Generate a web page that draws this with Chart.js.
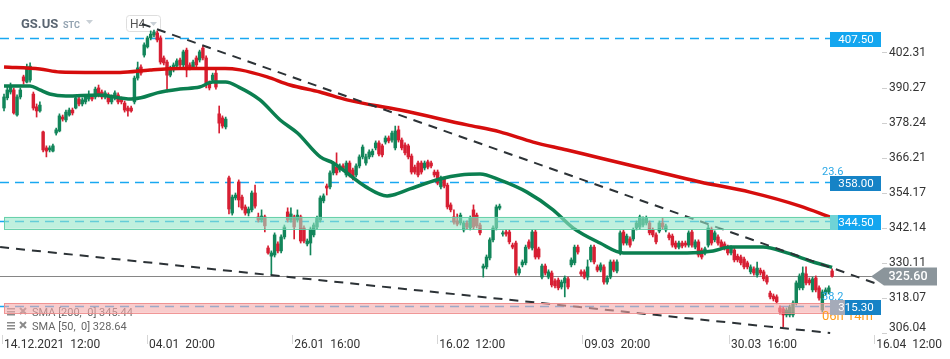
<!DOCTYPE html>
<html lang="en">
<head>
<meta charset="UTF-8">
<title>GS.US H4</title>
<script src="https://cdn.jsdelivr.net/npm/chart.js"></script>
<style>
  html, body { margin: 0; padding: 0; background: #fff; }
</style>
</head>
<body>
<canvas id="gsChart" width="950" height="359"></canvas>
<script>
// H4 candles, 14.12.2021 -> 13.04.2022
var opens = [383.4,386.9,388.9,389.6,381.0,387.2,394.1,392.3,393.0,388.2,383.8,382.4,375.2,369.7,369.0,368.6,374.8,375.5,380.3,379.3,
  381.0,382.7,383.4,386.5,384.8,385.5,386.5,387.2,387.2,390.3,388.9,387.2,387.9,385.5,386.9,387.9,386.5,385.1,383.4,383.4,
  385.5,393.7,397.5,401.6,404.4,407.5,408.5,409.2,407.5,400.6,399.2,394.7,396.5,397.8,399.9,398.2,403.3,398.2,397.5,400.6,
  399.9,404.0,400.6,392.0,393.0,395.4,381.4,380.0,376.9,359.4,347.3,352.5,358.0,352.8,349.4,347.3,348.4,354.2,346.0,344.9,
  346.0,335.3,332.5,332.9,336.7,334.3,339.1,347.7,344.9,346.0,344.9,346.0,342.2,336.7,337.0,339.8,342.5,344.9,351.5,356.6,
  356.3,361.1,363.1,362.1,363.5,360.4,364.5,362.1,360.4,363.5,366.6,364.5,366.6,367.3,369.7,371.4,370.4,371.7,373.1,372.4,
  369.7,375.9,372.4,370.7,370.4,366.9,363.1,364.5,364.5,362.8,364.9,364.5,361.4,361.4,356.3,359.0,356.9,350.1,346.0,344.6,
  343.9,341.5,343.9,342.2,348.4,346.6,343.2,328.4,328.8,331.9,338.1,342.2,349.0,340.1,340.8,340.8,336.3,337.0,326.7,329.5,
  330.2,337.4,335.3,340.8,335.0,325.3,329.1,325.3,326.7,324.0,324.3,321.9,323.3,324.7,329.5,330.2,335.6,327.1,327.1,325.3,
  331.2,335.6,328.8,327.7,328.8,323.6,325.3,330.5,327.4,333.6,340.8,337.0,338.4,338.4,342.2,342.5,343.2,343.9,343.9,341.5,
  339.8,341.1,343.9,341.5,339.8,339.4,337.0,335.6,337.0,337.0,336.3,340.8,335.6,337.4,334.6,333.6,336.3,341.8,338.1,339.1,
  337.4,336.7,335.6,333.6,334.6,332.5,332.2,331.5,330.2,327.1,328.1,326.0,327.7,327.1,325.3,319.8,318.8,318.5,314.7,314.4,
  312.3,312.3,312.3,316.4,321.6,321.6,326.4,324.3,320.9,325.0,321.6,314.0,319.8,320.2,327.4];
var highs = [388.2,390.6,392.0,390.3,387.9,390.3,394.7,398.5,398.9,388.9,384.8,385.5,375.5,370.4,370.4,371.0,376.5,381.4,381.0,382.7,
  383.4,383.4,387.5,387.5,386.9,387.9,389.3,387.9,390.6,391.3,389.6,389.3,388.6,387.9,389.3,388.6,387.2,385.8,384.1,384.1,
  394.4,399.2,398.2,405.8,408.1,409.9,410.2,409.9,408.2,401.3,399.9,397.8,398.9,400.3,400.6,403.3,404.0,398.9,399.9,401.3,
  403.3,404.7,401.3,392.7,395.4,396.5,384.1,380.7,380.3,360.0,353.5,354.2,358.7,353.5,350.1,349.4,354.9,356.9,347.3,348.4,
  346.6,336.0,334.3,340.5,337.4,339.8,343.2,349.1,349.1,346.6,348.4,346.6,342.9,338.4,342.5,343.9,346.3,353.2,353.9,357.3,
  361.8,364.9,368.0,364.2,364.2,365.2,365.2,362.8,364.2,367.3,370.7,367.6,369.0,369.3,372.1,372.1,371.0,373.8,373.8,375.5,
  377.2,377.2,373.1,371.4,371.0,367.6,363.8,365.2,365.2,365.2,365.5,365.2,362.1,362.1,360.0,359.7,357.6,350.8,348.4,347.0,
  347.3,344.6,344.6,346.3,350.1,347.3,343.9,329.8,332.9,338.8,342.9,350.1,350.4,341.2,341.5,341.5,337.0,337.7,328.8,331.2,
  336.3,338.1,341.5,341.5,335.6,329.8,329.8,327.8,327.4,324.7,325.0,324.3,325.7,325.3,331.9,336.3,336.3,327.8,327.8,331.2,
  336.3,336.3,329.5,330.2,329.5,325.7,331.2,331.2,331.2,341.2,341.5,340.1,339.1,342.2,344.6,346.6,346.0,346.3,344.6,342.2,
  340.5,344.6,345.6,343.5,340.5,340.1,337.7,337.7,337.7,337.7,341.2,341.5,338.1,338.1,335.3,335.6,343.2,342.5,341.2,339.8,
  338.1,337.4,336.3,336.0,335.3,333.2,332.9,332.2,330.8,329.5,328.8,330.5,328.4,327.7,326.0,320.5,319.5,319.2,315.4,315.0,
  314.7,315.7,317.1,324.0,326.4,328.8,328.8,325.0,325.3,325.7,322.3,320.9,321.6,322.3,328.1];
var lows = [382.4,386.2,388.2,381.3,380.6,386.5,391.6,392.0,392.3,382.7,380.3,382.0,368.3,366.6,368.3,368.3,374.1,375.2,378.9,378.6,
  380.6,381.0,383.1,384.1,384.1,384.8,385.8,385.8,386.5,387.2,386.5,386.5,384.8,384.8,386.2,384.8,384.8,382.0,380.6,382.0,
  384.8,393.0,394.7,400.9,404.0,406.8,407.8,406.1,398.5,398.2,388.9,394.1,395.8,397.2,397.5,397.5,394.1,396.5,396.8,397.5,
  399.2,399.9,390.3,389.6,392.3,389.9,374.8,376.5,376.2,347.0,346.6,351.8,349.4,348.4,346.6,346.3,347.7,349.0,344.2,344.2,
  340.8,333.2,326.0,332.2,333.6,333.6,338.4,344.2,344.2,338.4,344.2,337.0,337.0,336.0,332.9,339.1,341.8,344.2,350.8,353.5,
  355.6,360.4,360.4,361.4,361.8,359.7,359.7,358.7,359.7,362.8,365.9,363.8,365.9,366.6,369.0,366.9,366.6,371.0,371.4,371.7,
  369.0,371.7,369.0,367.3,365.9,360.7,360.7,359.7,360.7,362.1,362.5,362.8,359.7,357.0,355.6,355.9,348.7,347.7,343.5,342.9,
  343.2,340.8,341.8,341.5,341.8,342.2,339.8,325.3,328.1,331.2,337.4,341.5,348.4,339.4,339.4,336.7,335.0,326.0,326.0,328.8,
  329.5,335.0,334.6,331.5,331.5,324.7,326.0,324.7,321.9,321.6,320.9,321.2,318.5,321.2,328.8,329.5,333.2,325.7,324.7,324.3,
  330.5,329.8,327.1,327.1,322.9,322.9,324.7,327.1,326.7,332.9,336.3,336.3,335.6,337.7,341.5,341.8,342.5,343.2,339.8,339.1,
  336.7,340.5,341.8,340.8,338.1,335.6,335.0,335.0,335.3,335.6,335.6,335.6,335.0,332.2,331.5,332.9,335.6,336.3,337.4,336.3,
  335.0,334.6,332.9,332.9,330.5,330.5,329.5,328.1,328.1,326.4,326.0,325.3,326.0,324.0,322.9,317.8,317.1,316.1,312.6,308.2,
  311.6,311.6,311.6,315.7,320.9,320.9,322.6,322.6,320.2,320.2,317.4,313.3,319.2,319.5,325.3];
var closes = [387.2,389.6,391.0,381.7,387.2,389.6,392.7,397.5,397.8,383.4,382.4,384.4,369.0,368.6,369.7,370.4,375.9,380.7,379.6,382.0,
  382.7,381.7,386.9,384.8,386.2,387.2,387.9,386.5,389.9,387.9,387.2,388.6,385.5,387.2,388.6,385.5,385.5,382.7,382.4,382.4,
  393.7,397.2,395.4,405.1,407.5,408.8,409.5,406.8,399.2,398.9,394.7,397.2,398.2,399.6,398.2,402.7,396.5,397.2,399.2,398.2,
  402.7,400.6,392.0,390.3,394.7,390.6,378.2,377.2,379.6,348.7,352.8,353.5,351.8,349.0,347.3,348.7,354.2,349.7,344.9,346.3,
  342.9,333.6,333.6,339.8,334.3,339.1,342.5,344.9,347.0,342.5,346.6,337.7,337.7,337.7,341.8,343.2,345.6,352.5,353.2,355.9,
  361.1,364.2,361.1,363.5,362.5,364.5,360.4,359.4,363.5,366.6,370.0,366.6,368.3,368.6,371.4,367.6,367.3,373.1,372.1,374.8,
  375.5,372.4,369.7,368.0,366.6,361.4,361.4,360.4,361.4,364.5,363.1,363.5,360.4,357.6,359.4,356.6,349.4,348.4,344.2,343.5,
  346.6,343.9,342.5,345.6,342.5,342.9,340.5,329.1,332.2,338.1,342.2,349.4,349.7,340.5,340.1,337.4,335.6,326.7,328.1,330.5,
  335.6,335.6,340.8,332.2,332.2,329.1,326.7,327.1,322.6,322.3,321.6,323.6,325.0,321.9,331.2,335.6,333.9,326.4,325.3,328.8,
  335.6,330.5,327.7,329.5,323.6,325.0,330.5,327.7,330.5,340.5,337.0,339.4,336.3,341.5,343.9,346.0,345.3,345.6,340.5,339.8,
  337.4,343.9,342.5,342.9,338.8,336.3,335.6,337.0,336.0,336.3,340.5,336.3,337.4,332.9,332.2,335.0,342.2,337.0,340.5,337.0,
  335.6,335.3,333.6,335.3,331.2,331.2,330.2,328.8,328.8,328.8,326.7,328.4,326.7,324.7,323.6,318.5,317.8,316.8,313.3,312.3,
  314.0,315.0,316.4,323.3,325.7,326.7,323.3,323.3,324.7,320.9,318.1,320.2,320.9,321.6,325.6];

// moving averages, read at points along each line (x = candle index)
var sma50Idx = [0, 8, 11, 14, 19, 29, 39, 42, 47, 54, 60, 64, 68, 72, 78.5, 84.7, 90, 97, 101, 111, 117.5, 119.3, 124.5,
  133.7, 140, 146, 152, 160.4, 168.4, 174.5, 182.8, 190, 197, 202, 209.5, 217.5, 222.7, 232.8, 240.2, 248.2, 254];
var sma50Val = [391.0, 391.0, 389.6, 388.2, 387.5, 387.9, 386.5, 386.9, 388.6, 389.9, 390.6, 392.3, 392.3, 390.6, 386.2, 379.3,
  374.8, 366.6, 364.5, 356.3, 353.2, 353.5, 355.6, 359.0, 360.4, 360.7, 358.7, 354.5, 348.4, 342.2, 337.0, 333.6, 333.6,
  333.6, 333.6, 334.3, 335.6, 335.6, 333.6, 330.5, 328.64];
var sma200Idx = [0, 11, 17.2, 35.6, 44.8, 54, 67.8, 72.4, 80.7, 87.7, 96.9, 105.2, 121.5, 142, 152.1, 162.3, 172.7, 182.8,
  198.2, 213.5, 228.8, 244.2, 253.4];
var sma200Val = [397.5, 396.8, 395.8, 395.6, 396.5, 397.0, 397.0, 396.5, 394.1, 391.3, 388.9, 386.2, 382.7, 377.6, 375.2,
  371.7, 369.0, 366.2, 362.1, 358.0, 354.5, 349.7, 345.9];

// trend lines
var upperTrendIdx = [42.3, 268.7];
var upperTrendVal = [412.3, 322.6];
var lowerTrendIdx = [-1.2, 253.4];
var lowerTrendVal = [335.6, 306.1];

// axes
var xTickIdx = [0, 44.5, 89, 133.5, 178, 223, 267.5];
var xTickLabels = ['14.12.2021  12:00', '04.01  20:00', '26.01  16:00', '16.02  12:00', '09.03  20:00', '30.03  16:00', '16.04  12:00'];
var yTicks = [306.04, 318.07, 330.11, 342.14, 354.17, 366.21, 378.24, 390.27, 402.31];

// levels and zones
var levelEndIdx = 253.4;
var blueLevels = [407.50, 358.00];
var greenZone = [341.9, 346.0];
var greenZoneLine = 344.50;
var pinkZone = [313.0, 316.4];
var pinkZoneLine = 315.30;
var lastPrice = 325.60;
var sma200Last = 345.44;
var sma50Last = 328.64;

var GREEN = '#12855a';
var RED = '#d71f33';

var bodies = opens.map(function (o, i) { return { x: i, y: [o, closes[i]] }; });
var wicks = opens.map(function (o, i) { return { x: i, y: [lows[i], highs[i]] }; });
var candleColors = opens.map(function (o, i) { return closes[i] >= o ? GREEN : RED; });

function pts(xs, ys) { return xs.map(function (x, i) { return { x: x, y: ys[i] }; }); }

Chart.defaults.font.family = 'Roboto';

var overlay = {
  id: 'overlay',
  beforeDatasetsDraw: function (chart) {
    var ctx = chart.ctx, xs = chart.scales.x, ys = chart.scales.y, area = chart.chartArea;
    var xEnd = xs.getPixelForValue(levelEndIdx);
    ctx.save();
    // header
    ctx.fillStyle = '#5a6571';
    ctx.font = 'bold 13px Roboto';
    ctx.textBaseline = 'alphabetic';
    ctx.fillText('GS.US', 21, 28);
    ctx.fillStyle = '#93a3b1';
    ctx.font = 'bold 9px Roboto';
    ctx.fillText('STC', 63, 28);
    ctx.fillStyle = '#c9d0d6';
    ctx.beginPath(); ctx.moveTo(86, 20); ctx.lineTo(93, 20); ctx.lineTo(89.5, 24); ctx.fill();
    ctx.fillStyle = '#fff';
    ctx.strokeStyle = '#dedede';
    ctx.lineWidth = 1;
    ctx.beginPath(); ctx.roundRect(126.5, 15.5, 34, 16, 3); ctx.fill(); ctx.stroke();
    ctx.fillStyle = '#555';
    ctx.font = '12px Roboto';
    ctx.fillText('H4', 130, 28);
    ctx.fillStyle = '#c9d0d6';
    ctx.beginPath(); ctx.moveTo(150, 22); ctx.lineTo(157, 22); ctx.lineTo(153.5, 26); ctx.fill();

    // dashed levels
    ctx.setLineDash([9, 6]);
    ctx.lineWidth = 1.5;
    ctx.strokeStyle = '#19a8f1';
    blueLevels.concat([greenZoneLine, pinkZoneLine]).forEach(function (v) {
      var y = Math.round(ys.getPixelForValue(v)) + 0.5;
      ctx.beginPath(); ctx.moveTo(area.left, y); ctx.lineTo(xEnd, y); ctx.stroke();
    });
    ctx.setLineDash([]);

    // current price line
    var yp = Math.round(ys.getPixelForValue(lastPrice)) + 0.5;
    ctx.strokeStyle = '#868686';
    ctx.lineWidth = 1;
    ctx.beginPath(); ctx.moveTo(area.left, yp); ctx.lineTo(872, yp); ctx.stroke();
    ctx.restore();
  },
  afterDatasetsDraw: function (chart) {
    var ctx = chart.ctx, xs = chart.scales.x, ys = chart.scales.y;
    var x0 = xs.getPixelForValue(0), xEnd = xs.getPixelForValue(levelEndIdx);
    ctx.save();
    // indicator legend
    ctx.font = '11px Roboto';
    ctx.textBaseline = 'middle';
    [[312, 'SMA [200,  0] ' + sma200Last.toFixed(2)], [326, 'SMA [50,  0] ' + sma50Last.toFixed(2)]].forEach(function (r) {
      var y = r[0];
      ctx.fillStyle = '#8a8a8a';
      ctx.fillRect(7, y - 4, 8, 1.5); ctx.fillRect(7, y - 1, 8, 1.5); ctx.fillRect(7, y + 2, 8, 1.5);
      ctx.strokeStyle = '#8a8a8a'; ctx.lineWidth = 2;
      ctx.beginPath(); ctx.moveTo(20, y - 4); ctx.lineTo(26, y + 2); ctx.moveTo(26, y - 4); ctx.lineTo(20, y + 2); ctx.stroke();
      ctx.fillStyle = '#666';
      ctx.fillText(r[1], 32, y + 1);
    });

    // zones
    function zone(z, fill, stroke) {
      var yTop = ys.getPixelForValue(z[1]), yBot = ys.getPixelForValue(z[0]);
      ctx.fillStyle = fill;
      ctx.fillRect(x0, yTop, xEnd - x0, yBot - yTop);
      ctx.strokeStyle = stroke; ctx.lineWidth = 1;
      ctx.strokeRect(Math.round(x0) + 0.5, Math.round(yTop) + 0.5, Math.round(xEnd - x0), Math.round(yBot - yTop));
    }
    zone(greenZone, 'rgba(150,230,200,0.6)', 'rgba(95,205,165,0.9)');
    zone(pinkZone, 'rgba(245,170,170,0.6)', 'rgba(238,140,140,0.9)');
    ctx.restore();
  },
  afterDraw: function (chart) {
    var ctx = chart.ctx, xs = chart.scales.x, ys = chart.scales.y, area = chart.chartArea;
    var bx = Math.round(xs.getPixelForValue(levelEndIdx));
    ctx.save();
    ctx.textBaseline = 'middle';

    // y labels (lowest one pushed up above the time axis)
    ctx.fillStyle = '#333';
    ctx.font = '12px Roboto';
    ctx.textAlign = 'left';
    yTicks.forEach(function (v) {
      var y = ys.getPixelForValue(v);
      if (y > area.bottom - 8) y = area.bottom - 7;
      ctx.fillText(v.toFixed(2), 889, y);
    });

    // x tick marks
    ctx.strokeStyle = '#d6d6d6'; ctx.lineWidth = 1;
    xTickIdx.forEach(function (v) {
      var x = Math.round(xs.getPixelForValue(v)) - 1.5;
      ctx.beginPath(); ctx.moveTo(x, area.bottom); ctx.lineTo(x, area.bottom + 9); ctx.stroke();
    });

    // fibo texts
    ctx.font = '11px Roboto';
    ctx.fillStyle = '#2ba8e6';
    ctx.fillText('23.6', 822, ys.getPixelForValue(blueLevels[1]) - 10);
    ctx.fillText('38.2', 822, ys.getPixelForValue(pinkZoneLine) - 9);
    ctx.font = '13px Roboto';
    ctx.fillStyle = '#ff9d1c';
    ctx.fillText('06h 14m', 822, ys.getPixelForValue(pinkZoneLine) + 11);

    // level boxes
    function box(v, color, handle) {
      var y = Math.round(ys.getPixelForValue(v)) + 1.5;
      ctx.fillStyle = color;
      ctx.fillRect(bx, y - 7.5, 51, 15);
      if (handle) {
        ctx.fillStyle = handle;
        ctx.fillRect(bx, y - 7.5, handle === '#a5abb9' ? 15 : 8, 15);
      }
      ctx.fillStyle = '#fff';
      ctx.font = '11.5px Roboto';
      ctx.textAlign = 'center';
      ctx.fillText(v.toFixed(2), bx + 26, y + 0.5);
      ctx.textAlign = 'left';
    }
    box(blueLevels[0], '#14a6ef');
    box(blueLevels[1], '#1683c6');
    box(greenZoneLine, '#14a6ef', '#6fd3d6');
    box(pinkZoneLine, '#1683c6', '#a5abb9');

    // last price tag
    var yp = Math.round(ys.getPixelForValue(lastPrice)) + 0.5;
    ctx.fillStyle = '#8b959b';
    ctx.beginPath();
    ctx.moveTo(871, yp); ctx.lineTo(884, yp - 9); ctx.lineTo(937, yp - 9); ctx.lineTo(937, yp + 9); ctx.lineTo(884, yp + 9);
    ctx.closePath(); ctx.fill();
    ctx.fillStyle = '#fff';
    ctx.font = '500 12.5px Roboto';
    ctx.textAlign = 'center';
    ctx.fillText(lastPrice.toFixed(2), 908, yp + 0.5);
    ctx.restore();
  }
};

var ctx = document.getElementById('gsChart').getContext('2d');
var gsChart = new Chart(ctx, {
  type: 'bar',
  data: {
    datasets: [
      { type: 'line', data: pts(upperTrendIdx, upperTrendVal), borderColor: '#2c3236', borderWidth: 2, borderDash: [9, 7], pointRadius: 0, order: 0 },
      { type: 'line', data: pts(lowerTrendIdx, lowerTrendVal), borderColor: '#2c3236', borderWidth: 2, borderDash: [9, 7], pointRadius: 0, order: 0 },
      { type: 'line', data: pts(sma200Idx, sma200Val), borderColor: '#d60d0d', borderWidth: 3.5, pointRadius: 0, cubicInterpolationMode: 'monotone', order: 1 },
      { type: 'line', data: pts(sma50Idx, sma50Val), borderColor: '#0b7f50', borderWidth: 3.5, pointRadius: 0, cubicInterpolationMode: 'monotone', order: 1 },
      { data: bodies, backgroundColor: candleColors, barThickness: 2.8, minBarLength: 1, grouped: false, order: 2 },
      { data: wicks, backgroundColor: candleColors, barThickness: 1, grouped: false, order: 3 }
    ]
  },
  options: {
    responsive: false,
    animation: false,
    layout: { padding: 0 },
    plugins: { legend: { display: false }, tooltip: { enabled: false } },
    scales: {
      x: {
        type: 'linear',
        min: -1.23,
        max: 269.3,
        offset: false,
        grid: { display: false },
        border: { display: false },
        afterBuildTicks: function (s) { s.ticks = xTickIdx.map(function (v) { return { value: v }; }); },
        afterFit: function (s) { s.height = 24; },
        ticks: {
          autoSkip: false, maxRotation: 0, minRotation: 0, align: 'start', padding: -5,
          color: '#333', font: { size: 12 },
          callback: function (v, i) { return xTickLabels[i]; }
        }
      },
      y: {
        type: 'linear',
        position: 'right',
        min: 305.40,
        max: 420.52,
        border: { display: false },
        grid: { drawOnChartArea: false, drawTicks: true, tickLength: 5, color: '#cfcfcf' },
        afterBuildTicks: function (s) { s.ticks = yTicks.map(function (v) { return { value: v }; }); },
        afterFit: function (s) { s.width = 68; },
        ticks: { display: false }
      }
    }
  },
  plugins: [overlay]
});
</script>
</body>
</html>
